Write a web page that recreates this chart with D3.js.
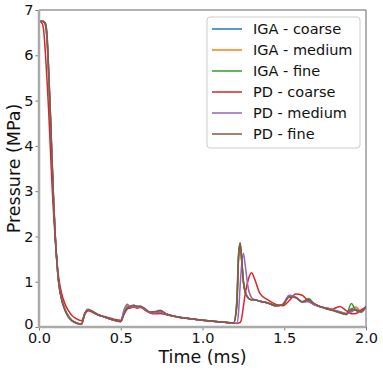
<!DOCTYPE html>
<html>
<head>
<meta charset="utf-8">
<script src="https://cdn.jsdelivr.net/npm/d3@7"></script>
<style>
  body { margin: 0; background: #fff; }
  text { font-family: "DejaVu Sans", sans-serif; }
</style>
</head>
<body>
<svg id="chart" width="383" height="371"></svg>
<script>
// shared time grid (ms)
var time = [0, 0.02, 0.03, 0.04, 0.05, 0.06, 0.07, 0.08, 0.09, 0.10, 0.12, 0.14, 0.16, 0.18, 0.20, 0.23, 0.26, 0.28, 0.30, 0.33,
  0.36, 0.40, 0.45, 0.50, 0.52, 0.54, 0.56, 0.58, 0.60, 0.62, 0.65, 0.68, 0.71, 0.74, 0.78, 0.85, 0.95, 1.05, 1.15, 1.19,
  1.21, 1.22, 1.23, 1.24, 1.25, 1.26, 1.28, 1.30, 1.32, 1.35, 1.40, 1.45, 1.49, 1.53, 1.57, 1.61, 1.65, 1.68, 1.72, 1.78,
  1.84, 1.88, 1.91, 1.94, 1.97, 2.00];

var igaCoarse = [6.75, 6.75, 6.74, 6.66, 6.3, 5.5, 4.6, 3.6, 2.7, 1.95, 1.0, 0.6, 0.38, 0.24, 0.15, 0.09, 0.07, 0.3, 0.37, 0.32,
  0.27, 0.22, 0.16, 0.12, 0.33, 0.46, 0.44, 0.47, 0.43, 0.44, 0.38, 0.32, 0.32, 0.34, 0.28, 0.22, 0.17, 0.13, 0.1, 0.09,
  0.5, 1.5, 1.82, 1.45, 1.0, 0.78, 0.64, 0.6, 0.6, 0.57, 0.53, 0.47, 0.49, 0.68, 0.65, 0.55, 0.58, 0.5, 0.45, 0.4,
  0.33, 0.29, 0.36, 0.38, 0.34, 0.46];
var igaMedium = [6.75, 6.75, 6.74, 6.66, 6.3, 5.5, 4.6, 3.6, 2.7, 1.95, 1.0, 0.6, 0.38, 0.24, 0.15, 0.09, 0.07, 0.3, 0.37, 0.32,
  0.27, 0.22, 0.16, 0.12, 0.34, 0.47, 0.45, 0.46, 0.44, 0.45, 0.38, 0.32, 0.33, 0.35, 0.28, 0.22, 0.17, 0.13, 0.1, 0.09,
  0.55, 1.55, 1.84, 1.47, 1.0, 0.78, 0.64, 0.6, 0.6, 0.57, 0.53, 0.47, 0.5, 0.69, 0.66, 0.55, 0.6, 0.52, 0.45, 0.4,
  0.33, 0.3, 0.4, 0.44, 0.34, 0.45];
var igaFine = [6.75, 6.75, 6.74, 6.66, 6.3, 5.5, 4.6, 3.6, 2.7, 1.95, 1.0, 0.6, 0.38, 0.24, 0.15, 0.09, 0.07, 0.3, 0.38, 0.33,
  0.27, 0.22, 0.16, 0.12, 0.3, 0.42, 0.44, 0.48, 0.45, 0.46, 0.39, 0.32, 0.32, 0.36, 0.28, 0.22, 0.17, 0.13, 0.1, 0.09,
  0.6, 1.6, 1.85, 1.45, 1.0, 0.78, 0.64, 0.6, 0.6, 0.57, 0.53, 0.47, 0.49, 0.66, 0.65, 0.56, 0.63, 0.52, 0.45, 0.38,
  0.31, 0.27, 0.52, 0.36, 0.34, 0.45];
var pdCoarse = [6.75, 6.7, 6.5, 6.0, 5.4, 4.7, 3.9, 3.1, 2.45, 1.9, 1.1, 0.72, 0.5, 0.36, 0.26, 0.18, 0.14, 0.28, 0.36, 0.33,
  0.28, 0.23, 0.18, 0.15, 0.3, 0.4, 0.42, 0.44, 0.42, 0.43, 0.37, 0.31, 0.29, 0.3, 0.27, 0.22, 0.17, 0.13, 0.1, 0.09,
  0.08, 0.09, 0.1, 0.2, 0.45, 0.7, 1.05, 1.2, 1.05, 0.75, 0.6, 0.5, 0.47, 0.58, 0.73, 0.7, 0.56, 0.5, 0.45, 0.38,
  0.45, 0.36, 0.29, 0.3, 0.38, 0.44];
var pdMedium = [6.75, 6.75, 6.74, 6.7, 6.4, 5.6, 4.7, 3.7, 2.75, 2.0, 1.0, 0.58, 0.36, 0.22, 0.14, 0.08, 0.06, 0.28, 0.38, 0.34,
  0.27, 0.22, 0.16, 0.12, 0.38, 0.5, 0.44, 0.45, 0.43, 0.44, 0.38, 0.32, 0.31, 0.33, 0.28, 0.22, 0.17, 0.13, 0.1, 0.09,
  0.09, 0.3, 0.9, 1.4, 1.63, 1.4, 0.85, 0.65, 0.6, 0.57, 0.53, 0.47, 0.5, 0.7, 0.66, 0.55, 0.56, 0.5, 0.44, 0.4,
  0.34, 0.3, 0.33, 0.4, 0.32, 0.46];
var pdFine = [6.75, 6.75, 6.74, 6.7, 6.4, 5.6, 4.7, 3.7, 2.75, 2.0, 1.0, 0.58, 0.36, 0.22, 0.14, 0.08, 0.06, 0.29, 0.39, 0.34,
  0.27, 0.22, 0.16, 0.12, 0.28, 0.4, 0.46, 0.48, 0.46, 0.46, 0.4, 0.33, 0.34, 0.37, 0.29, 0.22, 0.17, 0.13, 0.1, 0.09,
  0.45, 1.45, 1.86, 1.5, 1.02, 0.8, 0.64, 0.6, 0.6, 0.57, 0.53, 0.47, 0.49, 0.66, 0.65, 0.56, 0.6, 0.52, 0.45, 0.39,
  0.32, 0.28, 0.4, 0.37, 0.34, 0.45];

var seriesNames = ["IGA - coarse", "IGA - medium", "IGA - fine", "PD - coarse", "PD - medium", "PD - fine"];
var seriesValues = [igaCoarse, igaMedium, igaFine, pdCoarse, pdMedium, pdFine];
var seriesColors = ["#1f77b4", "#ff7f0e", "#2ca02c", "#d62728", "#9467bd", "#8c564b"];
var xTicks = [0, 0.5, 1.0, 1.5, 2.0];
var yTicks = [0, 1, 2, 3, 4, 5, 6, 7];

var svg = d3.select("#chart");
var margin = {top: 10, right: 17, bottom: 44, left: 39},
    width = +svg.attr("width") - margin.left - margin.right,
    height = +svg.attr("height") - margin.top - margin.bottom;

var x = d3.scaleLinear().domain([0, 2]).range([0, width]),
    y = d3.scaleLinear().domain([0, 7]).range([height, 0]);

var g = svg.append("g")
    .attr("transform", "translate(" + margin.left + "," + margin.top + ")");

var line = d3.line()
    .x(function(d) { return x(d[0]); })
    .y(function(d) { return y(d[1]); })
    .curve(d3.curveMonotoneX);

g.append("defs").append("clipPath").attr("id", "clip")
    .append("rect").attr("width", width).attr("height", height);

seriesValues.forEach(function(vals, i) {
    var pts = time.map(function(t, j) { return [t, vals[j]]; });
    g.append("path")
        .datum(pts)
        .attr("clip-path", "url(#clip)")
        .attr("fill", "none")
        .attr("stroke", seriesColors[i])
        .attr("stroke-width", 1.5)
        .attr("d", line);
});

// axes
var xAxis = g.append("g")
    .attr("transform", "translate(0," + height + ")")
    .call(d3.axisBottom(x).tickValues(xTicks).tickFormat(d3.format(".1f")).tickSize(3.5).tickPadding(2));
var yAxis = g.append("g")
    .call(d3.axisLeft(y).tickValues(yTicks).tickFormat(d3.format("d")).tickSize(3.5).tickPadding(2));

[xAxis, yAxis].forEach(function(a) {
    a.select(".domain").remove();
    a.selectAll("line").attr("stroke", "#555").attr("stroke-width", 0.8);
    a.selectAll("text").attr("fill", "#111").style("font-size", "14.5px");
});
// the "0" on the y axis sits just above the "0.0" of the x axis
yAxis.selectAll(".tick text").filter(function(d) { return d === 0; }).attr("dy", "0.1em");

// spines
g.append("line").attr("x1", 0).attr("x2", width).attr("y1", 0).attr("y2", 0)
    .attr("stroke", "#666").attr("stroke-width", 1);
g.append("line").attr("x1", width).attr("x2", width).attr("y1", 0).attr("y2", height)
    .attr("stroke", "#666").attr("stroke-width", 1);
g.append("line").attr("x1", 0).attr("x2", 0).attr("y1", 0).attr("y2", height + 1)
    .attr("stroke", "#aaa").attr("stroke-width", 2.5);
g.append("line").attr("x1", -1).attr("x2", width).attr("y1", height).attr("y2", height)
    .attr("stroke", "#aaa").attr("stroke-width", 2.5);

// axis labels
svg.append("text")
    .attr("x", margin.left + width / 2)
    .attr("y", 363)
    .attr("text-anchor", "middle")
    .style("font-size", "17.5px")
    .attr("fill", "#111")
    .text("Time (ms)");

svg.append("text")
    .attr("transform", "translate(20," + (margin.top + height / 2) + ") rotate(-90)")
    .attr("text-anchor", "middle")
    .style("font-size", "17.5px")
    .attr("fill", "#111")
    .text("Pressure (MPa)");

// legend
var legend = svg.append("g").attr("transform", "translate(207,17)");
legend.append("rect")
    .attr("width", 153).attr("height", 131)
    .attr("rx", 3)
    .attr("fill", "#fff").attr("fill-opacity", 0.8)
    .attr("stroke", "#ccc");

seriesNames.forEach(function(name, i) {
    var row = legend.append("g").attr("transform", "translate(0," + (12 + i * 21) + ")");
    row.append("line")
        .attr("x1", 5).attr("x2", 35)
        .attr("stroke", seriesColors[i]).attr("stroke-width", 1.5);
    row.append("text")
        .attr("x", 46).attr("dy", "0.35em")
        .style("font-size", "14.5px")
        .attr("fill", "#111")
        .text(name);
});
</script>
</body>
</html>
